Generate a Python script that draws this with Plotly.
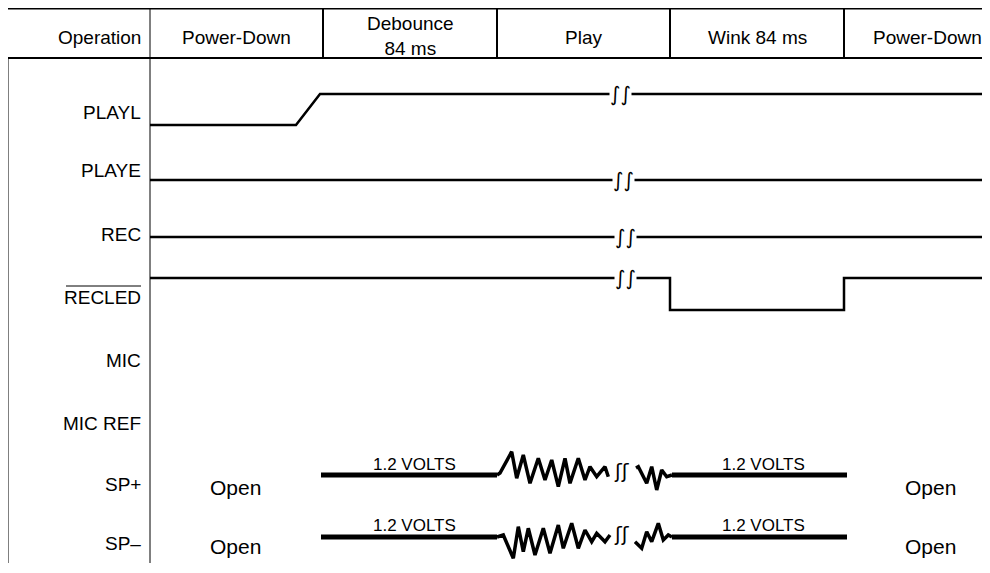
import plotly.graph_objects as go

# header phases and their boundaries along the time axis
phases = ["Operation", "Power-Down", "Debounce<br>84 ms", "Play", "Wink 84 ms", "Power-Down"]
phase_bounds = [8, 150, 323, 497, 670, 844, 1000]

# signal names and the row they sit on
signals = ["PLAYL", "PLAYE", "REC", "RECLED", "MIC", "MIC REF", "SP+", "SP–"]
signal_rows = [112, 170, 234, 297, 360, 423, 484, 543]

# logic waveforms (time, level)
playl_t = [150, 296, 320, 1000]
playl_y = [125, 125, 94, 94]
playe_t = [150, 1000]
playe_y = [180, 180]
rec_t = [150, 1000]
rec_y = [237, 237]
recled_t = [150, 670, 670, 844, 844, 1000]
recled_y = [278, 278, 310, 310, 278, 278]

# time break marks on the logic lines
break_t = [620, 623, 625, 625]
break_y = [94, 180, 237, 278]

# speaker outputs: 1.2 V bias segments and audio during play
sp_bias_t = [321, 497, None, 672, 847]
sp_plus_y = [475, 475, None, 475, 475]
sp_minus_y = [537, 537, None, 537, 537]

sp_plus_audio_t = [497, 500, 511.7, 516.7, 523.3, 530, 538.3, 545, 551.7, 558.3, 565, 570,
                   578.3, 585, 590, 596.7, 605, 608.3, None,
                   636, 638.3, 646.7, 651.7, 656.7, 661.7, 666.7, 672]
sp_plus_audio_y = [475, 473, 451.7, 478.3, 455, 483.3, 458.3, 480, 460, 486.7, 458.3, 483.3,
                   458.3, 480, 466.7, 476.7, 466.7, 476.7, None,
                   468, 466.7, 483.3, 466.7, 490, 470, 476.7, 475]

sp_minus_audio_t = [497, 503.3, 513.3, 518.3, 523.3, 528.3, 535, 543.3, 550, 558.3, 563.3,
                    571.7, 578.3, 585, 591.7, 596.7, 605, 610, None,
                    635, 641.7, 646.7, 651.7, 658.3, 663.3, 668.3, 672]
sp_minus_audio_y = [537, 535, 558.3, 526.7, 551.7, 528.3, 555, 528.3, 553.3, 525, 548.3,
                    523.3, 548.3, 530, 541.7, 533.3, 541.7, 535, None,
                    541.7, 548.3, 531.7, 541.7, 523.3, 540, 535, 537]
sp_break_t = [622, 622]
sp_break_y = [471, 534]

volt_label_t = [414, 763, 414, 763]
volt_label_y = [464, 464, 525, 525]
open_t = [235, 235, 930, 930]
open_y = [487, 546, 487, 546]

FONT = "Liberation Sans, Arial, sans-serif"
BLACK = "#000000"

fig = go.Figure()

for t, y in [(playl_t, playl_y), (playe_t, playe_y), (rec_t, rec_y), (recled_t, recled_y)]:
    fig.add_trace(go.Scatter(x=t, y=y, mode="lines", line=dict(color=BLACK, width=2.5),
                             hoverinfo="skip"))
# slanted rising edge of PLAYL drawn thinner
fig.add_trace(go.Scatter(x=playl_t[1:3], y=playl_y[1:3], mode="lines",
                         line=dict(color=BLACK, width=1.2), hoverinfo="skip"))

fig.add_trace(go.Scatter(x=sp_bias_t, y=sp_plus_y, mode="lines", line=dict(color=BLACK, width=5),
                         hoverinfo="skip"))
fig.add_trace(go.Scatter(x=sp_bias_t, y=sp_minus_y, mode="lines", line=dict(color=BLACK, width=5),
                         hoverinfo="skip"))
fig.add_trace(go.Scatter(x=sp_plus_audio_t, y=sp_plus_audio_y, mode="lines",
                         line=dict(color=BLACK, width=3.5), hoverinfo="skip"))
fig.add_trace(go.Scatter(x=sp_minus_audio_t, y=sp_minus_audio_y, mode="lines",
                         line=dict(color=BLACK, width=3.5), hoverinfo="skip"))

# table frame
fig.add_shape(type="line", x0=phase_bounds[0], x1=phase_bounds[-1], y0=8.8, y1=8.8,
              line=dict(color=BLACK, width=1.5))
fig.add_shape(type="line", x0=phase_bounds[0], x1=phase_bounds[-1], y0=58, y1=58,
              line=dict(color=BLACK, width=2))
fig.add_shape(type="line", x0=phase_bounds[0], x1=phase_bounds[0], y0=58, y1=563,
              line=dict(color=BLACK, width=1))
fig.add_shape(type="line", x0=phase_bounds[1], x1=phase_bounds[1], y0=8, y1=563,
              line=dict(color=BLACK, width=1))
for b in phase_bounds[2:-1]:
    fig.add_shape(type="line", x0=b, x1=b, y0=8, y1=58, line=dict(color=BLACK, width=2))

# header texts
for i, name in enumerate(phases):
    if i == 0:
        fig.add_annotation(x=phase_bounds[1] - 7, y=37, text=name, showarrow=False,
                           xanchor="right", yanchor="middle")
    elif i == len(phases) - 1:
        fig.add_annotation(x=phase_bounds[i] + 27, y=37, text=name, showarrow=False,
                           xanchor="left", yanchor="middle")
    else:
        fig.add_annotation(x=(phase_bounds[i] + phase_bounds[i + 1]) / 2, y=36 if "<br>" in name else 37,
                           text=name, showarrow=False, xanchor="center", yanchor="middle")

# signal labels
for name, row in zip(signals, signal_rows):
    fig.add_annotation(x=phase_bounds[1] - 7, y=row, text=name, showarrow=False,
                       xanchor="right", yanchor="middle")
# overline for active-low RECLED
fig.add_shape(type="line", x0=66, x1=141, y0=286, y1=286, line=dict(color=BLACK, width=1))

for t, y in zip(break_t, break_y):
    fig.add_annotation(x=t, y=y, text="∫∫", showarrow=False, bgcolor="white", borderpad=0,
                       font=dict(family="DejaVu Sans", size=20, color=BLACK))
for t, y in zip(sp_break_t, sp_break_y):
    fig.add_annotation(x=t, y=y, text="ʃʃ", showarrow=False,
                       font=dict(family="DejaVu Sans", size=20, color=BLACK))

for t, y in zip(volt_label_t, volt_label_y):
    fig.add_annotation(x=t, y=y, text="1.2 VOLTS", showarrow=False, font=dict(size=17))
for t, y in zip(open_t, open_y):
    fig.add_annotation(x=t, y=y, text="Open", showarrow=False, font=dict(size=21))

# the page body adds an 8 px offset, so the axes start at 8 to keep screen coordinates
fig.update_layout(
    width=990, height=573,
    margin=dict(l=0, r=0, t=0, b=0),
    paper_bgcolor="white", plot_bgcolor="white",
    showlegend=False,
    font=dict(family=FONT, size=19, color=BLACK),
    xaxis=dict(range=[8, 998], visible=False, fixedrange=True),
    yaxis=dict(range=[581, 8], visible=False, fixedrange=True),
)

fig.write_html("out.html")
